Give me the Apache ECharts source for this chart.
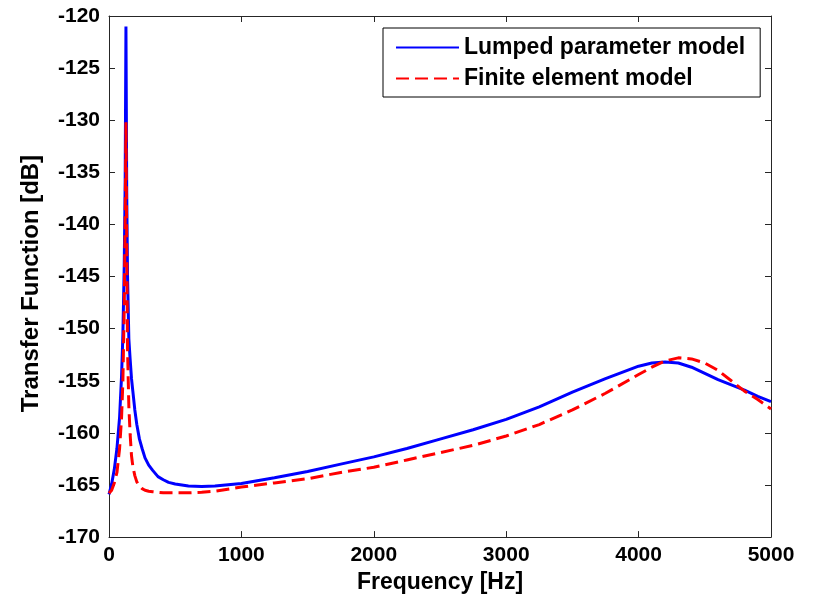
<!DOCTYPE html>
<html>
<head>
<meta charset="utf-8">
<script src="https://cdn.jsdelivr.net/npm/echarts@6/dist/echarts.min.js"></script>
<style>
  html, body { margin: 0; padding: 0; background: #fff; }
  #chart { width: 813px; height: 599px; }
</style>
</head>
<body>
<div id="chart"></div>
<script>
// frequency points [Hz]
var freq = [0, 20, 40, 60, 80, 95, 105, 115, 122, 128,
  134, 140, 150, 160, 170, 180, 195, 210, 230, 250,
  272, 300, 330, 370, 410, 450, 500, 600, 700, 800,
  1000, 1250, 1500, 1750, 2000, 2250, 2500, 2750, 3000, 3250,
  3500, 3750, 4000, 4100, 4200, 4300, 4400, 4500, 4600, 4700,
  4800, 4900, 5000];

// Lumped parameter model [dB]
var lumpedDb = [-165.9, -164.9, -163.5, -161.5, -158.5, -154.5, -150.5, -144, -136, -121,
  -137, -145, -151, -153, -154.8, -156, -157.8, -159.2, -160.6, -161.5,
  -162.4, -163.1, -163.6, -164.2, -164.5, -164.75, -164.9, -165.1, -165.15, -165.1,
  -164.85, -164.3, -163.7, -163, -162.3, -161.5, -160.6, -159.7, -158.7, -157.5,
  -156.1, -154.8, -153.6, -153.3, -153.2, -153.3, -153.7, -154.3, -154.9, -155.4,
  -155.9, -156.5, -157.0];

// Finite element model [dB]
var femDb = [-165.8, -165.5, -164.8, -163.8, -161.5, -158.5, -155, -148, -140, -130.2,
  -142, -152, -157.5, -160.2, -162.2, -163.2, -164.1, -164.7, -165.1, -165.35,
  -165.5, -165.6, -165.65, -165.7, -165.75, -165.75, -165.75, -165.75, -165.7, -165.6,
  -165.2, -164.8, -164.4, -163.8, -163.3, -162.6, -161.9, -161.2, -160.3, -159.2,
  -157.8, -156.2, -154.4, -153.7, -153.1, -152.8, -152.9, -153.3, -154, -155,
  -156, -156.8, -157.7];

var seriesNames = ['Lumped parameter model', 'Finite element model'];

function pairs(xs, ys) {
  var out = [];
  for (var i = 0; i < xs.length; i++) out.push([xs[i], ys[i]]);
  return out;
}

var font = 'Liberation Sans';
var axisColor = '#262626';

var chart = echarts.init(document.getElementById('chart'));

// 坐标轴公共样式：刻度朝内，四边成框
function xAx(pos, showLabel) {
  return {
    type: 'value', position: pos, min: 0, max: 5000, interval: 1000,
    axisLine: { show: true, onZero: false, lineStyle: { color: axisColor, width: 1 } },
    axisTick: { show: true, inside: true, length: 6, lineStyle: { color: axisColor } },
    axisLabel: {
      show: showLabel, color: '#000', fontFamily: font, fontWeight: 'bold', fontSize: 21, margin: 8,
      formatter: function (v) { return String(v); }
    },
    splitLine: { show: false }
  };
}
function yAx(pos, showLabel) {
  return {
    type: 'value', position: pos, min: -170, max: -120, interval: 5,
    axisLine: { show: true, onZero: false, lineStyle: { color: axisColor, width: 1 } },
    axisTick: { show: true, inside: true, length: 6, lineStyle: { color: axisColor } },
    axisLabel: { show: showLabel, color: '#000', fontFamily: font, fontWeight: 'bold', fontSize: 21, margin: 9 },
    splitLine: { show: false }
  };
}

var xMain = xAx('bottom', true);
xMain.name = 'Frequency [Hz]';
xMain.nameLocation = 'middle';
xMain.nameGap = 30;
xMain.nameTextStyle = { color: '#000', fontFamily: font, fontWeight: 'bold', fontSize: 23 };

var yMain = yAx('left', true);
yMain.name = 'Transfer Function [dB]';
yMain.nameLocation = 'middle';
yMain.nameGap = 66;
yMain.nameTextStyle = { color: '#000', fontFamily: font, fontWeight: 'bold', fontSize: 24, padding: [0, 14, 0, 0] };

var option = {
  backgroundColor: '#fff',
  animation: false,
  grid: { left: 109, right: 42, top: 16, bottom: 61 },
  xAxis: [xMain, xAx('top', false)],
  yAxis: [yMain, yAx('right', false)],
  legend: {
    data: seriesNames,
    orient: 'vertical',
    left: 383, top: 28,
    itemWidth: 63, itemHeight: 14, itemGap: 8,
    padding: [8, 15, 7, 12],
    borderColor: '#000', borderWidth: 1,
    backgroundColor: '#fff',
    itemStyle: { opacity: 0 },
    textStyle: { color: '#000', fontFamily: font, fontWeight: 'bold', fontSize: 23 }
  },
  series: [
    {
      name: seriesNames[0], type: 'line', data: pairs(freq, lumpedDb),
      showSymbol: false, symbol: 'none', z: 2, color: '#0000ff',
      lineStyle: { color: '#0000ff', width: 3 }
    },
    {
      name: seriesNames[1], type: 'line', data: pairs(freq, femDb),
      showSymbol: false, symbol: 'none', z: 3, color: '#ff0000',
      lineStyle: { color: '#ff0000', width: 3, type: [13, 6] }
    }
  ]
};

chart.setOption(option);
</script>
</body>
</html>
